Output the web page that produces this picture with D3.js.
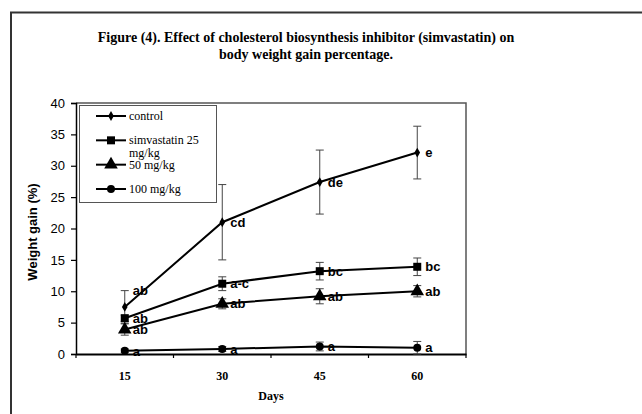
<!DOCTYPE html>
<meta charset="utf-8">
<style>
body { margin: 0; background: #fff; }
svg { display: block; }
.tick-y text { font-family: Arial, "Liberation Sans", sans-serif; font-size: 13px; }
.sig { font-family: Arial, "Liberation Sans", sans-serif; font-size: 13px; font-weight: bold; }
.serif { font-family: "Times New Roman", "Liberation Serif", serif; }
</style>
<svg width="642" height="414"></svg>
<script src="https://d3js.org/d3.v7.min.js"></script>
<script>

// chart data
var days = ["15", "30", "45", "60"];
var seriesNames = ["control", "simvastatin 25 mg/kg", "50 mg/kg", "100 mg/kg"];
var control = [7.5, 21.0, 27.4, 32.1];
var control_err = [2.6, 6.0, 5.1, 4.2];
var simva25 = [5.7, 11.2, 13.2, 13.9];
var simva25_err = [0.5, 1.1, 1.4, 1.4];
var simva50 = [3.9, 8.0, 9.2, 10.0];
var simva50_err = [0.9, 0.8, 1.2, 0.9];
var simva100 = [0.5, 0.8, 1.2, 1.0];
var simva100_err = [0.3, 0.4, 0.7, 1.0];
var control_sig = ["ab", "cd", "de", "e"];
var simva25_sig = ["ab", "a-c", "bc", "bc"];
var simva50_sig = ["ab", "ab", "ab", "ab"];
var simva100_sig = ["a", "a", "a", "a"];
var yTicks = [0, 5, 10, 15, 20, 25, 30, 35, 40];

var series = [
  {name: seriesNames[0], values: control, err: control_err, sig: control_sig, symbol: d3.symbolDiamond, size: 28},
  {name: seriesNames[1], values: simva25, err: simva25_err, sig: simva25_sig, symbol: d3.symbolSquare, size: 64},
  {name: seriesNames[2], values: simva50, err: simva50_err, sig: simva50_sig, symbol: d3.symbolTriangle, size: 80},
  {name: seriesNames[3], values: simva100, err: simva100_err, sig: simva100_sig, symbol: d3.symbolCircle, size: 50}
];

var svg = d3.select("svg");

// outer frame (right and bottom edges fall outside the picture)
svg.append("path")
    .attr("d", "M11,420V12.5H650")
    .attr("fill", "none")
    .attr("stroke", "#333")
    .attr("stroke-width", 2);

// title
var title = svg.append("text")
    .attr("class", "serif")
    .attr("text-anchor", "middle")
    .attr("font-weight", "bold")
    .attr("font-size", "14px");
title.append("tspan").attr("x", 306).attr("y", 42)
    .text("Figure (4). Effect of cholesterol biosynthesis inhibitor (simvastatin) on");
title.append("tspan").attr("x", 306).attr("y", 59)
    .text("body weight gain percentage.");

var plotLeft = 76, plotRight = 466, plotTop = 103, plotBottom = 354;

var x = d3.scaleBand().domain(days).range([plotLeft, plotRight]);
var y = d3.scaleLinear().domain([0, 40]).range([plotBottom, plotTop]);

// plot area frame
svg.append("path")
    .attr("d", "M" + plotLeft + "," + plotTop + "H" + plotRight + "V" + plotBottom)
    .attr("fill", "none")
    .attr("stroke", "#555")
    .attr("stroke-width", 1.5);

// y axis
var yAxis = svg.append("g")
    .attr("class", "tick-y")
    .attr("transform", "translate(" + plotLeft + ",0)")
    .call(d3.axisLeft(y).tickValues(yTicks).tickSize(5).tickPadding(6));
yAxis.select(".domain").attr("stroke", "#000").attr("stroke-width", 1.5);
yAxis.selectAll(".tick line").attr("stroke", "#000").attr("stroke-width", 1.2);
yAxis.selectAll("text").attr("fill", "#000");

// x axis: labels at category centres, ticks at category boundaries
var xAxis = svg.append("g")
    .attr("transform", "translate(0," + plotBottom + ")")
    .call(d3.axisBottom(x).tickSize(0).tickPadding(17));
xAxis.select(".domain").attr("stroke", "#000").attr("stroke-width", 2);
xAxis.selectAll("text")
    .attr("class", "serif")
    .attr("font-weight", "bold")
    .attr("font-size", "12px")
    .attr("fill", "#000");

var bounds = days.map(function(d) { return x(d); }).concat([x(days[days.length - 1]) + x.bandwidth()]);
svg.append("g").selectAll("line")
    .data(bounds)
    .enter().append("line")
      .attr("x1", function(d) { return d; })
      .attr("x2", function(d) { return d; })
      .attr("y1", plotBottom)
      .attr("y2", plotBottom + 4)
      .attr("stroke", "#000")
      .attr("stroke-width", 1.2);

// axis titles
svg.append("text")
    .attr("class", "serif")
    .attr("x", (plotLeft + plotRight) / 2)
    .attr("y", 400)
    .attr("text-anchor", "middle")
    .attr("font-weight", "bold")
    .attr("font-size", "12px")
    .text("Days");

svg.append("text")
    .attr("transform", "translate(37,232) rotate(-90)")
    .attr("text-anchor", "middle")
    .attr("font-family", "Arial, 'Liberation Sans', sans-serif")
    .attr("font-weight", "bold")
    .attr("font-size", "13px")
    .text("Weight gain (%)");

var cx = function(i) { return x(days[i]) + x.bandwidth() / 2; };

var line = d3.line()
    .x(function(d, i) { return cx(i); })
    .y(function(d) { return y(d); });

series.forEach(function(s, k) {
  var g = svg.append("g");

  // error bars
  var eb = g.selectAll(".err")
      .data(s.values)
      .enter().append("g")
        .attr("stroke", "#444")
        .attr("stroke-width", 1);
  eb.append("line")
      .attr("x1", function(d, i) { return cx(i); })
      .attr("x2", function(d, i) { return cx(i); })
      .attr("y1", function(d, i) { return y(d + s.err[i]); })
      .attr("y2", function(d, i) { return y(Math.max(0, d - s.err[i])); });
  eb.append("line")
      .attr("x1", function(d, i) { return cx(i) - 4; })
      .attr("x2", function(d, i) { return cx(i) + 4; })
      .attr("y1", function(d, i) { return y(d + s.err[i]); })
      .attr("y2", function(d, i) { return y(d + s.err[i]); });
  eb.append("line")
      .attr("x1", function(d, i) { return cx(i) - 4; })
      .attr("x2", function(d, i) { return cx(i) + 4; })
      .attr("y1", function(d, i) { return y(Math.max(0, d - s.err[i])); })
      .attr("y2", function(d, i) { return y(Math.max(0, d - s.err[i])); });

  g.append("path")
      .datum(s.values)
      .attr("d", line)
      .attr("fill", "none")
      .attr("stroke", "#000")
      .attr("stroke-width", 2);

  g.selectAll(".mark")
      .data(s.values)
      .enter().append("path")
        .attr("d", d3.symbol().type(s.symbol).size(s.size))
        .attr("transform", function(d, i) { return "translate(" + cx(i) + "," + y(d) + ")"; })
        .attr("fill", "#000");

  g.selectAll(".sig")
      .data(s.values)
      .enter().append("text")
        .attr("class", "sig")
        .attr("x", function(d, i) { return cx(i) + 8; })
        .attr("y", function(d, i) {
          // the first control label sits at the top of its error bar
          return (k === 0 && i === 0) ? y(d + s.err[i]) : y(d);
        })
        .attr("dy", "0.36em")
        .text(function(d, i) { return s.sig[i]; });
});

// legend
var legend = svg.append("g");
legend.append("rect")
    .attr("x", 79.5).attr("y", 105.5)
    .attr("width", 137).attr("height", 97)
    .attr("fill", "#fff")
    .attr("stroke", "#555")
    .attr("stroke-width", 1);

var legendY = d3.scalePoint().domain(seriesNames).range([116, 189]);

series.forEach(function(s) {
  var ly = legendY(s.name);
  legend.append("line")
      .attr("x1", 96).attr("x2", 126)
      .attr("y1", ly).attr("y2", ly)
      .attr("stroke", "#000")
      .attr("stroke-width", 2);
  legend.append("path")
      .attr("d", d3.symbol().type(s.symbol).size(s.size))
      .attr("transform", "translate(111," + ly + ")")
      .attr("fill", "#000");
  var t = legend.append("text")
      .attr("class", "serif")
      .attr("font-size", "12px")
      .attr("y", ly + 4);
  if (s.name === "simvastatin 25 mg/kg") {
    t.append("tspan").attr("x", 129).text("simvastatin 25");
    t.append("tspan").attr("x", 129).attr("dy", 13).text("mg/kg");
  } else {
    t.attr("x", 129).text(s.name);
  }
});

</script>
